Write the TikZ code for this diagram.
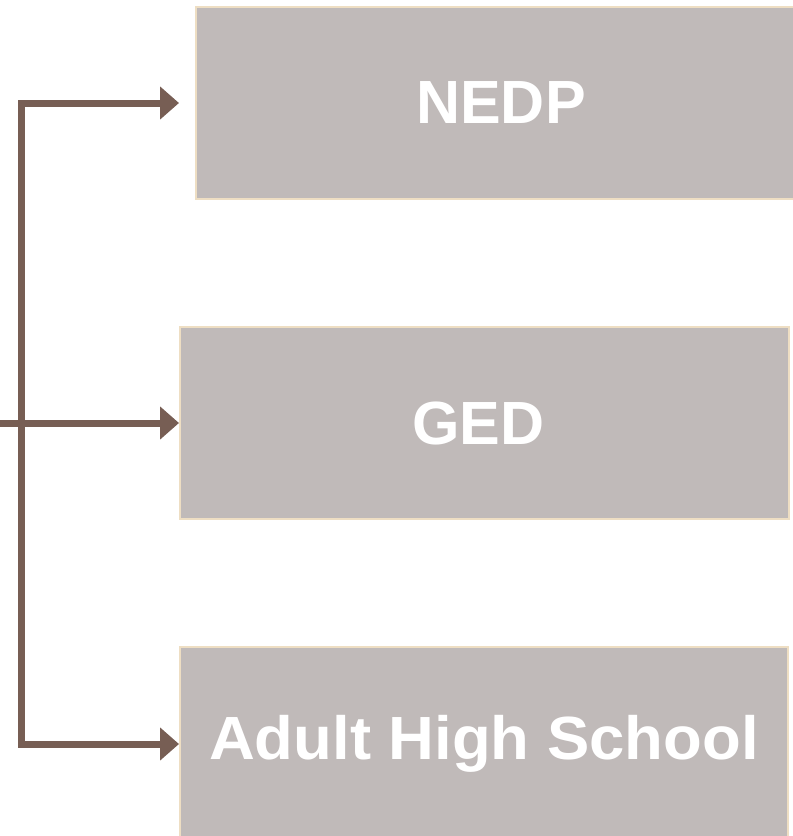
\documentclass[tikz,border=0pt]{standalone}
\usepackage{fontspec}
\setmainfont{Liberation Sans}
\usetikzlibrary{arrows.meta}
\definecolor{boxfill}{HTML}{C0BAB9}
\definecolor{boxline}{HTML}{EEDEC3}
\definecolor{arrowc}{HTML}{775E54}
\tikzset{
  optbox/.style={draw=boxline, line width=2pt, fill=boxfill, text=white,
    font=\fontsize{61}{61}\selectfont\bfseries, inner sep=0pt,
    minimum height=192pt},
  conn/.style={draw=arrowc, line width=7pt, line join=miter, line cap=butt},
  tipped/.style={conn, -{Triangle[length=19pt,width=32pt]}}
}
\begin{document}
\begin{tikzpicture}[x=1pt,y=-1pt]
\useasboundingbox (0,0) rectangle (793,836);
\node[optbox, minimum width=610pt] (nedp) at (501,103) {NEDP};
\node[optbox, minimum width=609pt] (ged) at (484.5,423) {\hspace*{-12pt}GED};
\node[optbox, minimum width=608pt, minimum height=194pt] (ahs) at (484,744) {\scalebox{1.04}[1]{Adult High School}};
\coordinate (tt) at (21,103);
\coordinate (tb) at (21,744);
\coordinate (in) at (0,423);
\draw[tipped, shorten >=16pt] (tb) -- (tt) -- (nedp.west);
\draw[tipped] (tt) -- (tb) -- (ahs.west);
\draw[tipped] (in) -- (ged.west);
\end{tikzpicture}
\end{document}
